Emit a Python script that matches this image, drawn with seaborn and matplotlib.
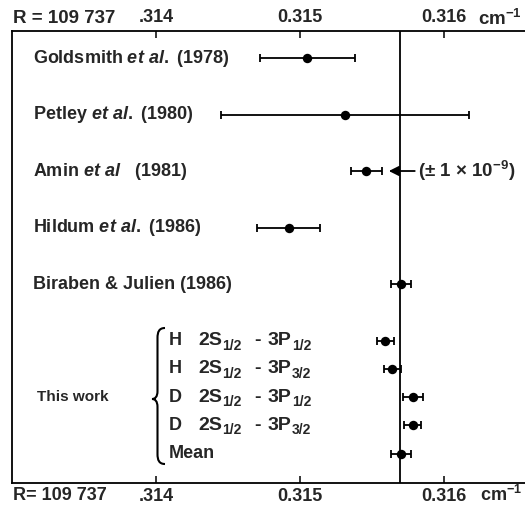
import matplotlib
matplotlib.use("Agg")
import matplotlib.pyplot as plt
import matplotlib.transforms as mtransforms
import seaborn as sns
import pandas as pd
from matplotlib.path import Path
from matplotlib.patches import PathPatch

# ---------------- data ----------------
labels = ["Goldsmith $et\\ al.$ (1978)", "Petley $et\\ al.$ (1980)", "Amin $et\\ al$   (1981)",
          "Hildum $et\\ al.$ (1986)", "Biraben & Julien (1986)",
          "H 2S1/2 - 3P1/2", "H 2S1/2 - 3P3/2", "D 2S1/2 - 3P1/2", "D 2S1/2 - 3P3/2", "Mean"]
values = [0.31505, 0.31531, 0.31546, 0.31492, 0.31570,
          0.31559, 0.31564, 0.31578, 0.31578, 0.31570]
errors = [0.00033, 0.00086, 0.00011, 0.00022, 0.00007,
          0.00006, 0.00006, 0.00007, 0.00006, 0.00007]
rows = [0, 1, 2, 3, 4, 5, 5.5, 6, 6.5, 7]
tick_values = [0.314, 0.315, 0.316]
tick_labels = [".314", "0.315", "0.316"]
reference_value = 0.31569
this_work_isotope = ["H", "H", "D", "D"]
this_work_lower = ["1/2", "1/2", "1/2", "1/2"]
this_work_upper = ["1/2", "3/2", "1/2", "3/2"]

df = pd.DataFrame({"label": labels, "value": values, "err": errors, "row": rows})

# ---------------- style ----------------
sns.set_style("ticks")
plt.rcParams["font.family"] = ["Liberation Sans", "DejaVu Sans"]
plt.rcParams["font.weight"] = "bold"
plt.rcParams["mathtext.fontset"] = "custom"
plt.rcParams["mathtext.rm"] = "Liberation Sans:bold"
plt.rcParams["mathtext.it"] = "Liberation Sans:italic:bold"
plt.rcParams["mathtext.bf"] = "Liberation Sans:bold"
plt.rcParams["mathtext.sf"] = "Liberation Sans:bold"

W, H = 525, 505
fig = plt.figure(figsize=(W / 100, H / 100), dpi=100)
ax_l, ax_r, ax_t, ax_b = 12, 525, 31, 483
ax = fig.add_axes([ax_l / W, 1 - ax_b / H, (ax_r - ax_l) / W, (ax_b - ax_t) / H])

# error bars
ax.errorbar(df["value"], df["row"], xerr=df["err"], fmt="none", ecolor="black",
            elinewidth=1.3, capsize=3.2, capthick=1.3, zorder=3)
sns.scatterplot(data=df, x="value", y="row", color="black", s=46, edgecolor="black",
                linewidth=0, ax=ax, zorder=4, legend=False)

ax.axvline(reference_value, color="black", lw=1.3, zorder=2)

ax.set_xlim(0.31300, 0.31656)
ax.set_ylim(7.522, -0.478)
ax.set_xlabel("")
ax.set_ylabel("")
ax.set_yticks([])
ax.set_xticks(tick_values)
ax.set_xticklabels(tick_labels)
ax.tick_params(axis="x", which="both", direction="in", top=True, bottom=True,
               labeltop=True, labelbottom=True, length=5, width=1.3,
               labelsize=13, pad=3.5)
for s in ["left", "top", "bottom"]:
    ax.spines[s].set_linewidth(1.3)
    ax.spines[s].set_color("black")
ax.spines["right"].set_visible(False)

fs = 13
xa = lambda px: (px - ax_l) / (ax_r - ax_l)
ya = lambda py: 1 - (py - ax_t) / (ax_b - ax_t)
ytr = ax.get_yaxis_transform()
sub_tr = mtransforms.offset_copy(ytr, fig=fig, x=0, y=-5, units="dots")

# literature labels
for i in range(5):
    ax.text(xa(33), rows[i], labels[i], transform=ytr,
            ha="left", va="center", fontsize=fs, fontweight="bold")

# this work labels
for k in range(4):
    r = rows[5 + k]
    ax.text(xa(169), r, this_work_isotope[k], transform=ytr, ha="left",
            va="center", fontsize=fs, fontweight="bold")
    ax.text(xa(198), r, "2S", transform=ytr, ha="left", va="center",
            fontsize=fs + 1, fontweight="bold")
    ax.text(xa(222), r, this_work_lower[k], transform=sub_tr, ha="left", va="center",
            fontsize=10, fontweight="bold")
    ax.text(xa(254), r, "-", transform=ytr, ha="left", va="center",
            fontsize=fs + 1, fontweight="bold")
    ax.text(xa(268), r, "3P", transform=ytr, ha="left", va="center",
            fontsize=fs + 1, fontweight="bold")
    ax.text(xa(292), r, this_work_upper[k], transform=sub_tr, ha="left", va="center",
            fontsize=10, fontweight="bold")
ax.text(xa(169), rows[9], "Mean", transform=ytr, ha="left", va="center",
        fontsize=fs, fontweight="bold")
ax.text(xa(37), rows[7], "This work", transform=ytr, ha="left", va="center",
        fontsize=11, fontweight="bold")

# curly brace
tip, top_y, bot_y, mid_y, sx = 152, 328, 464, 399, 157.5
verts = [(165, top_y), (159, top_y), (sx, top_y + 4), (sx, top_y + 10),
         (sx, mid_y - 8),
         (sx, mid_y - 2), (155, mid_y), (tip, mid_y),
         (155, mid_y), (sx, mid_y + 2), (sx, mid_y + 8),
         (sx, bot_y - 10),
         (sx, bot_y - 4), (159, bot_y), (165, bot_y)]
codes = [Path.MOVETO, Path.CURVE4, Path.CURVE4, Path.CURVE4,
         Path.LINETO,
         Path.CURVE4, Path.CURVE4, Path.CURVE4,
         Path.CURVE4, Path.CURVE4, Path.CURVE4,
         Path.LINETO,
         Path.CURVE4, Path.CURVE4, Path.CURVE4]
verts = [(xa(x), ya(y)) for x, y in verts]
ax.add_patch(PathPatch(Path(verts, codes), transform=ax.transAxes, fill=False,
                       lw=1.5, color="black", clip_on=False))

# Amin arrow + note
ax.annotate("", xy=(0.315615, rows[2]), xytext=(0.315795, rows[2]),
            arrowprops=dict(arrowstyle="-|>,head_length=0.6,head_width=0.3",
                            color="black", lw=1.3, shrinkA=0, shrinkB=0))
ax.text(0.315815, rows[2], "(± 1 × 10$^{-9}$)", ha="left", va="center",
        fontsize=fs + 0.5, fontweight="bold")

# axis side labels
fig.text(13 / W, 1 - 18.5 / H, "R = 109 737", ha="left", va="center", fontsize=fs + 0.5, fontweight="bold")
fig.text(522 / W, 1 - 18.5 / H, "cm$^{-1}$", ha="right", va="center", fontsize=fs + 0.5, fontweight="bold")
fig.text(13 / W, 1 - 496 / H, "R= 109 737", ha="left", va="center", fontsize=fs, fontweight="bold")
fig.text(522 / W, 1 - 495 / H, "cm$^{-1}$", ha="right", va="center", fontsize=fs, fontweight="bold")

fig.savefig("out.png", dpi=100)
